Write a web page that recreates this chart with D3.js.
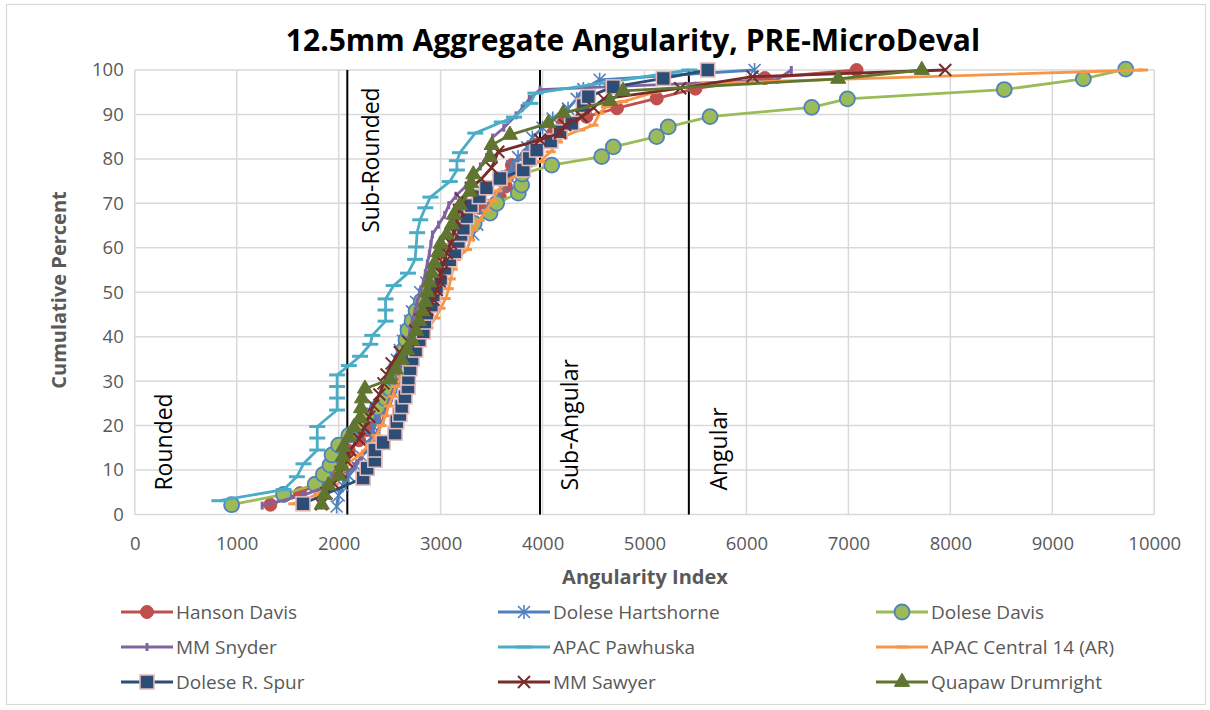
<!DOCTYPE html>
<html>
<head>
<meta charset="utf-8">
<script src="https://cdn.jsdelivr.net/npm/d3@7"></script>
<style>
  html, body { margin: 0; padding: 0; background: #ffffff; }
  svg { display: block; font-family: "Open Sans", "Liberation Sans", sans-serif; }
</style>
</head>
<body>
<svg id="chart" width="1210" height="710"></svg>
<script>
// ---- Data: [angularity index, cumulative percent] per sample set ----
const hansonDavis = [[1330,2.2],[1620,4.8],[1800,7.1],[1900,9.5],[1980,11.9],[2100,14.3],[2200,16.7],[2280,19],[2350,21.4],[2400,23.8],[2450,26.2],[2500,28.6],[2540,31],[2580,33.3],[2620,35.7],[2650,38.1],[2690,40.5],[2730,42.9],[2780,45.2],[2820,47.6],[2880,50],[2930,52.4],[2980,54.8],[3030,57.1],[3080,59.5],[3130,61.9],[3200,64.3],[3280,66.7],[3380,69],[3580,71.4],[3640,73.8],[3660,76.2],[3700,78.6],[3850,81],[3950,83.3],[4100,85.7],[4200,88],[4430,89.5],[4730,91.4],[5120,93.6],[5500,95.8],[6180,98.2],[7080,100]];
const doleseHartshorne = [[1980,1.8],[2000,4.3],[2040,6.5],[2100,8.7],[2170,10.9],[2230,13],[2280,15.2],[2320,17.4],[2350,19.6],[2390,21.7],[2420,23.9],[2460,26.1],[2500,28.3],[2520,30.4],[2550,32.6],[2570,34.8],[2600,37],[2630,39.1],[2660,41.3],[2700,43.5],[2720,45.7],[2760,47.8],[2800,50],[2860,52.2],[2920,54.3],[3000,56.5],[3080,58.7],[3180,60.9],[3320,63],[3360,65.2],[3420,67.4],[3520,69.6],[3560,71.7],[3600,73.9],[3660,76.1],[3700,78.3],[3760,80.4],[3850,82.6],[3900,84.8],[4000,87],[4100,89.1],[4250,91.3],[4335,93.5],[4400,95.7],[4560,97.8],[6080,100]];
const doleseDavis = [[950,2.2],[1460,4.5],[1770,6.8],[1850,9],[1915,11.1],[1935,13.4],[2000,15.6],[2100,17.8],[2200,20],[2280,22.2],[2380,24],[2455,26.1],[2500,28.3],[2540,30.5],[2580,32.7],[2620,34.9],[2640,37.1],[2660,39.3],[2680,41.5],[2720,43.6],[2760,45.8],[2810,48],[2860,50.2],[2920,52.4],[2980,54.5],[3040,56.7],[3100,58.9],[3160,61.1],[3240,63.3],[3330,65.5],[3485,67.8],[3550,70],[3762,72.3],[3795,74.1],[3800,76.6],[4090,78.6],[4580,80.5],[4694,82.7],[5119,85],[5233,87.2],[5643,89.5],[6640,91.6],[6990,93.5],[8529,95.6],[9305,98],[9720,100.2]];
const mmSnyder = [[1250,2],[1650,4.3],[1900,6.5],[2050,8.7],[2150,10.9],[2220,13],[2300,15.2],[2350,17.4],[2400,19.6],[2440,21.7],[2470,23.9],[2500,26.1],[2540,28.3],[2570,30.4],[2600,32.6],[2620,34.8],[2650,37],[2680,39.1],[2700,41.3],[2720,43.5],[2750,45.7],[2770,47.8],[2800,50],[2830,52.2],[2850,54.3],[2870,56.5],[2890,58.7],[2905,60.9],[2920,63],[2980,65.2],[3040,67.4],[3080,69.6],[3150,71.7],[3250,73.9],[3320,76.1],[3390,78.3],[3450,80.4],[3480,82.6],[3510,84.8],[3620,87],[3740,89.8],[3800,91.4],[3870,93.5],[3975,95.6],[6300,97.8],[6440,100]];
const apacPawhuska = [[830,3.1],[1460,5.6],[1590,8.5],[1655,11.4],[1790,14.5],[1790,17.2],[1790,19.8],[1985,23.5],[1985,26.2],[1985,28.8],[1985,31.4],[2100,33.5],[2210,35.6],[2310,38.3],[2330,40.3],[2460,43.5],[2460,46],[2460,48.5],[2540,51.5],[2680,54.3],[2750,57.4],[2760,60.2],[2770,63.4],[2800,66.3],[2850,69],[2900,71.4],[3090,74.9],[3160,77.5],[3160,79.6],[3190,81.4],[3340,85.8],[3600,88.3],[3720,89.4],[3880,92.5],[3930,94.8],[5440,100]];
const apacCentral14 = [[1555,2.4],[1800,4.6],[1950,6.8],[2020,9],[2080,11.2],[2200,13.4],[2300,15.6],[2370,17.8],[2420,20],[2460,22.2],[2490,24.4],[2530,26.6],[2560,28.8],[2620,31],[2680,33.2],[2720,35.4],[2760,37.6],[2800,39.8],[2880,42],[2950,44.2],[3000,46.4],[3050,48.6],[3080,50.8],[3100,53],[3120,55.2],[3150,57.4],[3260,59.6],[3290,61.8],[3320,64],[3380,66.2],[3450,68.4],[3510,70.6],[3560,72.8],[3650,75],[3800,77.2],[3975,79.4],[4080,81.6],[4150,83.8],[4200,85],[4370,86.5],[4500,87.6],[4560,90.3],[4620,91.7],[4790,92.9],[5100,95],[5600,97],[9890,100]];
const doleseRSpur = [[1650,2.4],[2240,8.2],[2280,10.4],[2355,12.2],[2355,14.5],[2436,16.2],[2553,18.3],[2570,20.9],[2600,22.5],[2618,24.3],[2650,26.5],[2680,28.7],[2684,30.7],[2700,32.8],[2720,35],[2755,37],[2790,39.3],[2830,41.1],[2845,43.3],[2864,45.3],[2910,47.1],[2929,49.4],[2960,51.2],[3000,53.1],[3043,55.4],[3090,57.3],[3140,59.1],[3174,61.4],[3200,63],[3223,64.4],[3256,67],[3300,69.5],[3380,71.5],[3450,73.5],[3582,75.6],[3811,77.5],[3870,80.1],[3942,82],[4080,84],[4172,86.1],[4286,88],[4400,92],[4449,94],[4694,96.2],[5185,98.1],[5620,100]];
const mmSawyer = [[1830,2.3],[1880,4.8],[1950,7],[2020,9.5],[2080,12],[2111,14.5],[2200,17],[2250,19.5],[2300,22],[2340,24.5],[2400,27],[2440,29.5],[2470,31.5],[2520,34],[2600,36.5],[2680,38.9],[2750,41.4],[2800,43.8],[2870,46],[2930,48.3],[2962,50.5],[2990,52.5],[3000,54.3],[3027,56.5],[3060,58.8],[3100,61],[3130,63.5],[3160,66],[3180,68.5],[3200,71],[3300,73.5],[3400,75.5],[3500,78],[3566,81.6],[3975,84.3],[4172,85.8],[4220,87.6],[4384,89.5],[4500,91.5],[4600,93.5],[5350,95.9],[6060,98.5],[7950,100]];
const quapawDrumright = [[1834,2.2],[1860,4.4],[1900,6.5],[2000,8.7],[2029,10.9],[2040,13],[2046,15.2],[2100,17.4],[2150,19.6],[2210,21.7],[2220,23.9],[2230,26.1],[2258,28.3],[2504,30.4],[2560,32.6],[2620,34.8],[2670,37],[2720,39.1],[2760,41.3],[2790,43.5],[2820,45.7],[2850,47.8],[2870,50],[2890,52.2],[2912,54.3],[2940,56.5],[2978,59],[3000,60.9],[3060,63],[3110,65.2],[3130,67.4],[3190,69.6],[3288,72.6],[3300,74.5],[3321,76.5],[3484,80.4],[3501,83.1],[3680,85.4],[4056,88],[4203,90.3],[4662,93],[4790,95.3],[6900,98],[7720,100]];

// Class boundaries of the angularity index and their labels
const classBounds = [2085, 3975, 5435];
const classLabels = ["Rounded", "Sub-Rounded", "Sub-Angular", "Angular"];
const classLabelPos = [[300, 2], [2330, 60], [4280, 2], [5740, 2]];

const seriesNames = ["Hanson Davis", "Dolese Hartshorne", "Dolese Davis", "MM Snyder", "APAC Pawhuska", "APAC Central 14 (AR)", "Dolese R. Spur", "MM Sawyer", "Quapaw Drumright"];
const seriesData = [hansonDavis, doleseHartshorne, doleseDavis, mmSnyder, apacPawhuska, apacCentral14, doleseRSpur, mmSawyer, quapawDrumright];

const xTicks = [0,1000,2000,3000,4000,5000,6000,7000,8000,9000,10000];
const yTicks = [0,10,20,30,40,50,60,70,80,90,100];

// ---- Styles ----
const styles = [
  { color: "#C0504D", marker: "circle",   fill: "#C0504D", stroke: "#C0504D" },
  { color: "#4F81BD", marker: "asterisk", fill: "none",    stroke: "#4F81BD" },
  { color: "#9BBB59", marker: "circle2",  fill: "#9BBB59", stroke: "#4F81BD" },
  { color: "#8064A2", marker: "tick",     fill: "#8064A2", stroke: "#8064A2" },
  { color: "#4BACC6", marker: "dashLong", fill: "none",    stroke: "#4BACC6" },
  { color: "#F79646", marker: "dash",     fill: "none",    stroke: "#F79646" },
  { color: "#2C4D75", marker: "square",   fill: "#2C4D75", stroke: "#E6B9B8" },
  { color: "#772C2A", marker: "x",        fill: "none",    stroke: "#772C2A" },
  { color: "#5F7530", marker: "triangle", fill: "#5F7530", stroke: "#5F7530" }
];

const svg = d3.select("#chart");
svg.append("rect").attr("width", 1210).attr("height", 710).attr("fill", "#fff");
svg.append("rect").attr("x", 6.5).attr("y", 4.5).attr("width", 1199).attr("height", 700)
  .attr("fill", "none").attr("stroke", "#D9D9D9").attr("stroke-width", 1.2);

const x = d3.scaleLinear().domain([0, 10000]).range([134.75, 1154.25]);
const y = d3.scaleLinear().domain([0, 100]).range([514.5, 70]);

// Gridlines
const grid = svg.append("g");
grid.selectAll(".vg").data(xTicks).join("line")
  .attr("x1", d => x(d)).attr("x2", d => x(d)).attr("y1", y(0)).attr("y2", y(100))
  .attr("stroke", "#D9D9D9").attr("stroke-width", 1.5);
grid.selectAll(".hg").data(yTicks).join("line")
  .attr("x1", x(0)).attr("x2", x(10000)).attr("y1", d => y(d)).attr("y2", d => y(d))
  .attr("stroke", "#D9D9D9").attr("stroke-width", 1.5);

// Axes (tick labels only)
const xAxis = svg.append("g").attr("transform", `translate(0,${y(0)})`)
  .call(d3.axisBottom(x).tickValues(xTicks).tickSize(0).tickPadding(22).tickFormat(d3.format("d")));
const yAxis = svg.append("g").attr("transform", `translate(${x(0)},0)`)
  .call(d3.axisLeft(y).tickValues(yTicks).tickSize(0).tickPadding(11).tickFormat(d3.format("d")));
[xAxis, yAxis].forEach(a => {
  a.select(".domain").remove();
  a.selectAll("text").attr("font-family", "Open Sans").attr("font-size", 18.5).attr("fill", "#595959");
});

// Class boundary lines
svg.append("g").selectAll("line").data(classBounds).join("line")
  .attr("x1", d => x(d)).attr("x2", d => x(d)).attr("y1", y(0)).attr("y2", y(100))
  .attr("stroke", "#000").attr("stroke-width", 2);

svg.append("g").selectAll("text").data(classLabels).join("text")
  .attr("transform", (d, i) => `translate(${x(classLabelPos[i][0]) + 7},${y(classLabelPos[i][1]) - 15}) rotate(-90)`)
  .attr("font-size", 23).attr("fill", "#000")
  .text(d => d);

// Marker drawing
function drawMarker(g, type, st) {
  switch (type) {
    case "circle":
      g.append("circle").attr("r", 6.5).attr("fill", st.fill).attr("stroke", st.stroke); break;
    case "circle2":
      g.append("circle").attr("r", 7.5).attr("fill", st.fill).attr("stroke", st.stroke).attr("stroke-width", 1.8); break;
    case "asterisk":
      g.append("path").attr("d", "M0,-7V7M-6,-6L6,6M-6,6L6,-6").attr("stroke", st.stroke).attr("stroke-width", 1.6).attr("fill", "none"); break;
    case "tick":
      g.append("path").attr("d", "M0,-4V4").attr("stroke", st.stroke).attr("stroke-width", 3); break;
    case "dashLong":
      g.append("path").attr("d", "M-8,0H8").attr("stroke", st.stroke).attr("stroke-width", 3); break;
    case "dash":
      g.append("path").attr("d", "M-5,0H5").attr("stroke", st.stroke).attr("stroke-width", 3); break;
    case "square":
      g.append("rect").attr("x", -7).attr("y", -7).attr("width", 14).attr("height", 14)
        .attr("fill", st.fill).attr("stroke", st.stroke).attr("stroke-width", 1.6); break;
    case "x":
      g.append("path").attr("d", "M-6,-6L6,6M-6,6L6,-6").attr("stroke", st.stroke).attr("stroke-width", 2).attr("fill", "none"); break;
    case "triangle":
      g.append("path").attr("d", d3.symbol(d3.symbolTriangle, 100)()).attr("fill", st.fill).attr("stroke", st.stroke); break;
  }
}

const line = d3.line().x(d => x(d[0])).y(d => y(d[1]));
const plot = svg.append("g");
seriesData.forEach((data, i) => {
  const st = styles[i];
  const g = plot.append("g");
  g.append("path").datum(data).attr("d", line)
    .attr("fill", "none").attr("stroke", st.color).attr("stroke-width", 2.8).attr("stroke-linejoin", "round");
  data.forEach(p => {
    const m = g.append("g").attr("transform", `translate(${x(p[0])},${y(p[1])})`);
    drawMarker(m, st.marker, st);
  });
});

// Title
svg.append("text").attr("x", 633).attr("y", 51).attr("text-anchor", "middle")
  .attr("font-size", 30).attr("font-weight", "bold").attr("fill", "#000")
  .text("12.5mm Aggregate Angularity, PRE-MicroDeval");

// Axis titles
svg.append("text").attr("x", 645).attr("y", 584).attr("text-anchor", "middle")
  .attr("font-size", 20).attr("font-weight", "bold").attr("fill", "#595959").text("Angularity Index");
svg.append("text").attr("transform", "translate(66,290) rotate(-90)").attr("text-anchor", "middle")
  .attr("font-size", 20).attr("font-weight", "bold").attr("fill", "#595959").text("Cumulative Percent");

// Legend
const legCols = [121, 498, 876];
const legRows = [612, 647, 682];
const legend = svg.append("g");
seriesNames.forEach((name, i) => {
  const cx = legCols[i % 3], cy = legRows[Math.floor(i / 3)];
  const st = styles[i];
  const g = legend.append("g").attr("transform", `translate(${cx},${cy})`);
  g.append("line").attr("x1", 0).attr("x2", 52).attr("y1", 0).attr("y2", 0)
    .attr("stroke", st.color).attr("stroke-width", 2.8);
  drawMarker(g.append("g").attr("transform", "translate(26,0)"), st.marker, st);
  g.append("text").attr("x", 55).attr("y", 6.5).attr("font-size", 19).attr("fill", "#595959").text(name);
});
</script>
</body>
</html>
